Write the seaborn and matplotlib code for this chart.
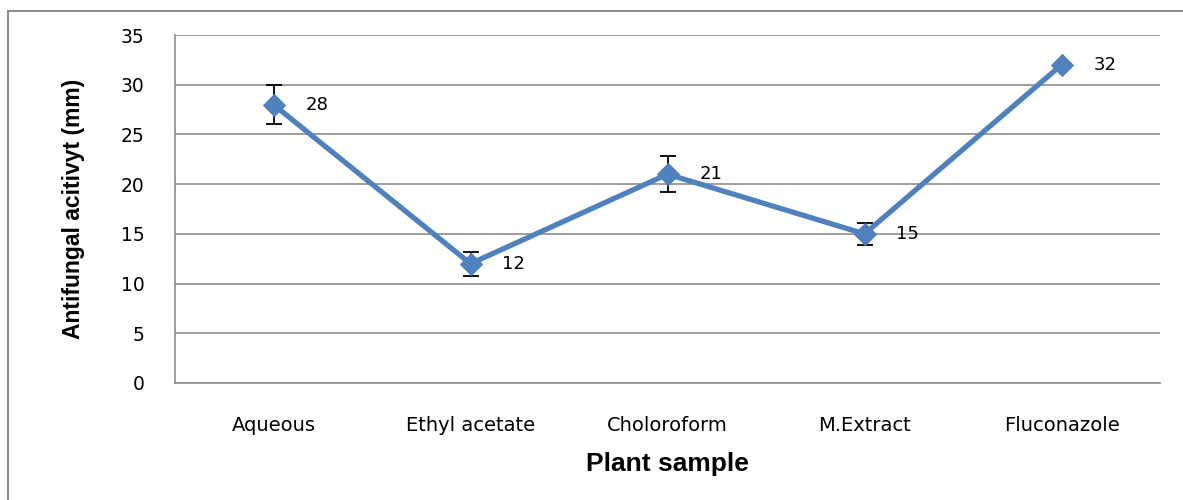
import matplotlib
matplotlib.use("Agg")
import matplotlib.pyplot as plt
import seaborn as sns
import pandas as pd
from matplotlib.patches import Rectangle

samples = ["Aqueous", "Ethyl acetate", "Choloroform", "M.Extract", "Fluconazole"]
activity = [28, 12, 21, 15, 32]
errors = [2.0, 1.2, 1.8, 1.1, 0.2]
yticks = [0, 5, 10, 15, 20, 25, 30, 35]

df = pd.DataFrame({"sample": samples, "activity": activity})

sns.set_style("white")
plt.rcParams["font.family"] = ["DejaVu Sans"]
plt.rcParams["text.color"] = "black"

fig = plt.figure(figsize=(11.83, 5.0), dpi=100)
ax = fig.add_axes([175/1183, 1-383/500, (1160-175)/1183, (383-35)/500])

# outer chart frame (cut off at right and bottom like the reference)
fig.patches.append(Rectangle((8/1183, -0.1), 1.2, 1-11/500+0.1, transform=fig.transFigure,
                             fill=False, edgecolor="#8c8c8c", linewidth=1.5))

blue = "#4F81BD"
ax.errorbar(df["sample"], df["activity"], yerr=errors, fmt="none", ecolor="black",
            elinewidth=1.3, capsize=6, capthick=1.3, zorder=2)
sns.lineplot(data=df, x="sample", y="activity", ax=ax, color=blue, linewidth=3.8,
             marker="D", markersize=11, markeredgecolor=blue, sort=False, zorder=3)

for i, v in enumerate(activity):
    ax.annotate(str(v), (i, v), xytext=(23, 0), textcoords="offset points",
                ha="left", va="center", fontsize=13, color="black")

ax.set_xlim(-0.5, len(samples) - 0.5)
ax.set_ylim(0, 35)
ax.set_yticks(yticks)
ax.set_yticklabels([str(t) for t in yticks], fontsize=13.5, color="black")
ax.grid(axis="y", color="#8c8c8c", linewidth=1.2)
ax.grid(axis="x", visible=False)
ax.set_axisbelow(True)
for s in ["top", "right"]:
    ax.spines[s].set_visible(False)
for s in ["left", "bottom"]:
    ax.spines[s].set_color("#8c8c8c")
    ax.spines[s].set_linewidth(1.2)
ax.tick_params(axis="y", length=0, pad=22)
ax.tick_params(axis="x", length=0, pad=24)
for lab in ax.get_xticklabels():
    lab.set_fontfamily("DejaVu Sans")
    lab.set_fontsize(14)
    lab.set_color("black")

ax.set_xlabel("Plant sample", fontsize=19, fontweight="bold", family="Liberation Sans",
              labelpad=12, color="black")
ax.set_ylabel("Antifungal acitivyt (mm)", fontsize=16.5, fontweight="bold", family="Liberation Sans",
              labelpad=26, color="black")

fig.savefig("out.png", dpi=100)
